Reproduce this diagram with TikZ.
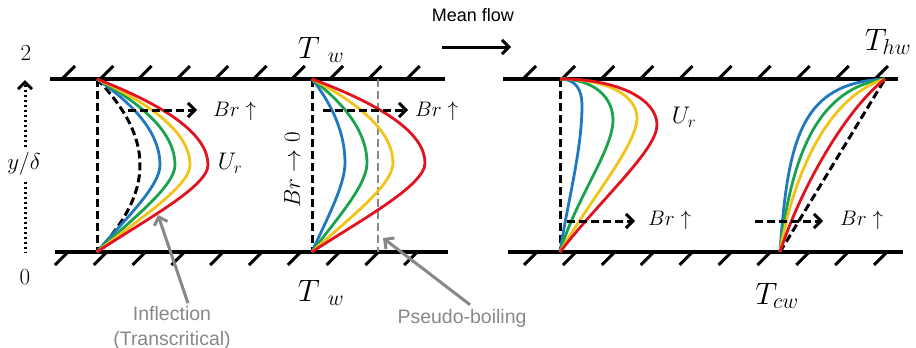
\RequirePackage{fix-cm}
\documentclass[tikz,border=0pt]{standalone}
\usepackage{fontspec}
\newfontfamily\notefont{Liberation Sans}
\usetikzlibrary{arrows.meta}
\definecolor{profblue}{HTML}{1F78C0}
\definecolor{profgreen}{HTML}{1BA24C}
\definecolor{profyellow}{HTML}{F2C417}
\definecolor{profred}{HTML}{E11321}
\definecolor{notegray}{HTML}{888888}

\begin{document}
\begin{tikzpicture}[x=1pt, y=-1pt,
    wall/.style={line width=3.4pt},
    hatch/.style={line width=3pt},
    guide/.style={line width=3pt, dash pattern=on 8pt off 4pt},
    prof/.style={line width=2.8pt},
    barb/.style={-{Straight Barb[length=7pt, width=14pt]}},
    brlabel/.style={font=\fontsize{21}{24}\selectfont, inner sep=0pt},
    bigT/.style={font=\fontsize{31}{34}\selectfont, inner sep=0pt},
    note/.style={font=\notefont\fontsize{19.5}{25}\selectfont, text=notegray, inner sep=0pt, align=center},
    notearrow/.style={draw=notegray, line width=3pt, barb}]
  \useasboundingbox (0,0) rectangle (916,348);

  % walls and hatching
  \draw[wall] (50,79) -- (445,79);
  \draw[wall] (55,252) -- (448,252);
  \draw[wall] (503,79) -- (898,79);
  \draw[wall] (508,252) -- (903,252);
  \foreach \i in {0,...,9} {
    \draw[hatch] ({62+38.3*\i},79) -- ++(13,-13);
    \draw[hatch] ({68+38.8*\i},252) -- ++(-13,13);
    \draw[hatch] ({523+39.1*\i},79) -- ++(13,-13);
    \draw[hatch] ({537+38.9*\i},252) -- ++(-13,13);
  }

  % y axis
  \node[font=\fontsize{23}{26}\selectfont, inner sep=0pt] (ytop) at (26,53) {$2$};
  \node[font=\fontsize{23}{26}\selectfont, inner sep=0pt] (ybot) at (25,277) {$0$};
  \node[font=\fontsize{23}{26}\selectfont, inner sep=0pt] (ylab) at (24,164) {$y/\delta$};
  \coordinate (yup) at (25,80);
  \coordinate (ylow) at (25,253);
  \draw[line width=3pt, dash pattern=on 2.5pt off 2.5pt, barb] ([yshift=5pt]ylab.north -| yup) -- (yup);
  \draw[line width=3pt, dash pattern=on 2.5pt off 2.5pt] ([yshift=-6pt]ylab.south -| ylow) -- (ylow);

  % mean flow
  \node[font=\notefont\fontsize{18}{22}\selectfont, inner sep=0pt] (flow) at (473,15) {Mean flow};
  \coordinate (flowA) at (442,47);
  \coordinate (flowB) at (511,47);
  \draw[line width=3pt, barb] (flowA) -- (flowB);

  % wall temperatures
  \node[bigT] (Ttop) at (321,50) {$T_{\phantom{h}w}$};
  \node[bigT] (Tbot) at (321,293) {$T_{\phantom{h}w}$};
  \node[bigT] (Thw) at (888,42) {$T_{hw}$};
  \node[bigT] (Tcw) at (777,296) {$T_{cw}$};

  % reference profiles
  \draw[guide] (97,79) -- (97,252);
  \draw[guide] (312,79) -- (312,252);
  \draw[guide, draw=notegray, line width=2.4pt] (378,79) -- (378,252);
  \draw[guide] (560,79) -- (560,252);
  \draw[guide] (780,252) -- (885,79);
  \draw[guide] (97,79) .. controls (125,108) and (140,136) .. (140,165) .. controls (140,194) and (125,222) .. (97,252);

  % profile 1
  \foreach \pk/\col in {63/profblue, 78/profgreen, 93/profyellow, 111/profred}
    \draw[prof, \col] (97,79) .. controls ({97+0.667*\pk},108) and ({97+\pk},136) .. ({97+\pk},165)
      .. controls ({97+\pk},187) and ({97+0.4*\pk},222) .. (97,252);

  % profile 2
  \foreach \pk/\col in {33/profblue, 55/profgreen, 81/profyellow, 113/profred}
    \draw[prof, \col] (312,79) .. controls ({312+0.667*\pk},107) and ({312+\pk},135) .. ({312+\pk},163)
      .. controls ({312+\pk},186) and ({312+0.4*\pk},222) .. (312,252);

  % profile 3
  \draw[prof, profblue] (560,79) .. controls (576,79) and (582,90) .. (582,105) .. controls (582,150) and (568,200) .. (560,252);
  \draw[prof, profgreen] (560,79) .. controls (595,79) and (613,98) .. (613,120) .. controls (613,150) and (575,200) .. (560,252);
  \draw[prof, profyellow] (560,79) .. controls (610,79) and (637,97) .. (637,118) .. controls (637,145) and (590,200) .. (560,252);
  \draw[prof, profred] (560,79) .. controls (620,79) and (657,100) .. (657,125) .. controls (657,150) and (600,200) .. (560,252);

  % profile 4
  \draw[prof, profblue] (780,252) .. controls (788,135) and (803,83) .. (885,79);
  \draw[prof, profgreen] (780,252) .. controls (792,150) and (820,88) .. (885,79);
  \draw[prof, profyellow] (780,252) .. controls (795,165) and (832,95) .. (885,79);
  \draw[prof, profred] (780,252) .. controls (800,190) and (845,110) .. (885,79);

  % Brinkman labels
  \node[brlabel, anchor=west] (brA) at (213,111) {$Br\uparrow$};
  \node[brlabel, anchor=west] (brB) at (415,111) {$Br\uparrow$};
  \node[brlabel, anchor=west] (brC) at (648,220) {$Br\uparrow$};
  \node[brlabel, anchor=west] (brD) at (840,220) {$Br\uparrow$};
  \node[brlabel, rotate=90, font=\fontsize{23}{26}\selectfont] (brZero) at (292,170) {$Br\rightarrow0$};
  \coordinate (brAtail) at (128,110);
  \coordinate (brBtail) at (323,110);
  \coordinate (brCtail) at (567,221);
  \coordinate (brDtail) at (755,221);
  \draw[guide, barb, shorten >=16pt] (brAtail) -- (brAtail -| brA.west);
  \draw[guide, barb, shorten >=7pt] (brBtail) -- (brBtail -| brB.west);
  \draw[guide, barb, shorten >=13pt] (brCtail) -- (brCtail -| brC.west);
  \draw[guide, barb, shorten >=17pt] (brDtail) -- (brDtail -| brD.west);

  \node[font=\fontsize{24}{26}\selectfont, inner sep=0pt] (UrA) at (230,163) {$U_r$};
  \node[font=\fontsize{24}{26}\selectfont, inner sep=0pt] (UrB) at (684,117) {$U_r$};

  % notes
  \node[note] (infl) at (172,328) {Inflection\\(Transcritical)};
  \node[note] (pseudo) at (462,318) {Pseudo-boiling};
  \coordinate (inflTip) at (158,215);
  \coordinate (pseudoTip) at (383,238);
  \draw[notearrow] ([xshift=16pt, yshift=3pt]infl.north) -- (inflTip);
  \draw[notearrow] ([xshift=8pt, yshift=4pt]pseudo.north) -- (pseudoTip);
\end{tikzpicture}
\end{document}
